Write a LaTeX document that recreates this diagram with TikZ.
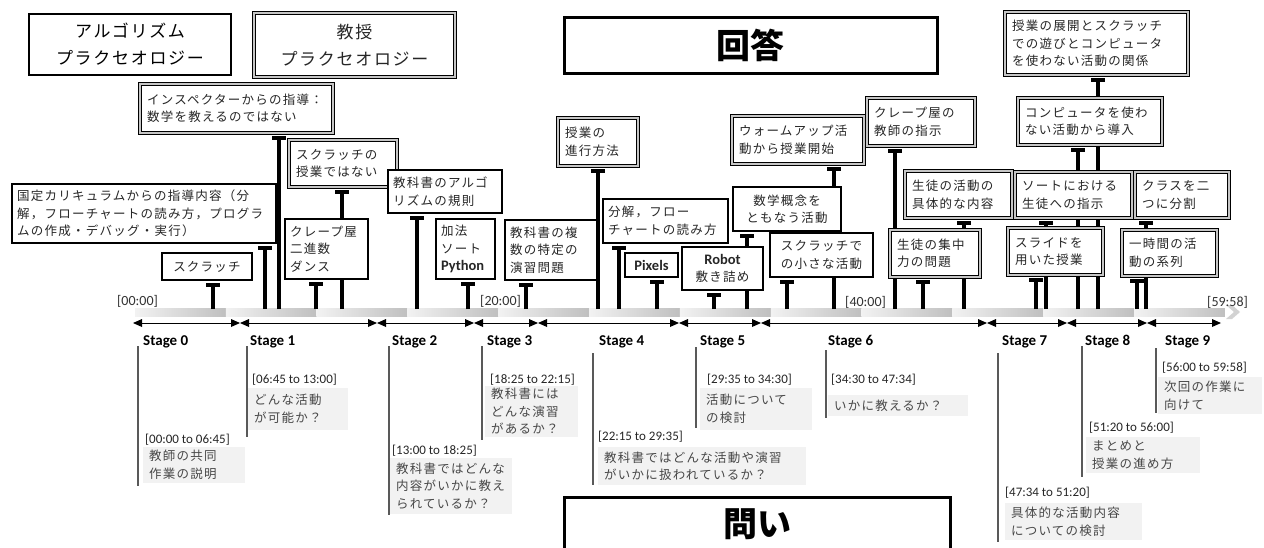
\documentclass[tikz,border=0pt]{standalone}
\usepackage{fontspec}
\setmainfont{Carlito}
\newfontfamily\jp{Noto Sans CJK JP}
\newfontfamily\jps{Noto Sans CJK JP}[LetterSpace=10]
\newfontfamily\latf{Carlito}
\usetikzlibrary{arrows.meta,calc}
\pgfdeclarelayer{background}
\pgfsetlayers{background,main}
\newcommand\jpt{\jps\fontsize{12.5}{17.5}\selectfont}
\newcommand\jptitle{\jps\fontsize{17}{27}\selectfont}
\newcommand\jpbig{\jp\bfseries\fontsize{34}{40}\selectfont}
\begin{document}
\begin{tikzpicture}[x=1pt,y=-1pt,
  sbox/.style={draw, line width=1.8pt, fill=white, inner xsep=5pt, inner ysep=1pt, align=left, font=\jpt, text=black!85},
  dbox/.style={draw, line width=1.1pt, double=gray!45, double distance=1.6pt, fill=white, inner xsep=7pt, inner ysep=1pt, align=left, font=\jpt, text=black!85},
  tbox/.style={draw, line width=2.6pt, fill=white, align=center},
  qbox/.style={fill=gray!10, text=black!72, align=left, inner xsep=6pt, inner ysep=1pt, font=\jpt},
  tlab/.style={anchor=west, inner sep=0pt, font=\latf\fontsize{13}{15}\selectfont, text=black!85},
  mlab/.style={anchor=west, inner sep=0pt, font=\latf\fontsize{14}{16}\selectfont, text=black!80},
  stlab/.style={anchor=west, inner sep=0pt, font=\latf\bfseries\fontsize{15}{18}\selectfont},
  latb/.style={font=\latf\bfseries\fontsize{14.5}{17.5}\selectfont},
  conn/.style={line width=4.2pt, -{Rectangle[length=4pt,width=14pt,line width=0pt]}, shorten >=2pt},
  stg/.style={line width=0.9pt, {Triangle[length=9pt,width=8pt,line width=0pt]}-{Triangle[length=9pt,width=8pt,line width=0pt]}},
  sline/.style={line width=1.1pt, black!65}
]
\useasboundingbox (0,0) rectangle (1264,547);

% ---------- title boxes
\node[tbox, line width=2.4pt, minimum width=202, minimum height=61, font=\jptitle] (algprax) at (130,44.5) {アルゴリズム\\プラクセオロジー};
\node[dbox, line width=1.3pt, double distance=1.8pt, align=center, minimum width=201, minimum height=64, font=\jptitle] (teachprax) at (354.5,45) {教授\\プラクセオロジー};
\node[tbox, line width=3pt, minimum width=373, minimum height=56, font=\jpbig] (ans) at (750.5,45) {回答};
\node[tbox, line width=3pt, minimum width=386, minimum height=54, font=\jpbig] (qst) at (757,524) {問い};

% ---------- double boxes
\node[dbox, minimum width=193, minimum height=49, text width=179] (insp) at (236.5,108.5) {インスペクターからの指導：\\数学を教えるのではない};
\node[dbox, minimum width=108, minimum height=47, text width=94] (notscr) at (343,163.5) {スクラッチの\\授業ではない};
\node[dbox, minimum width=80, minimum height=48, text width=66] (prog) at (598,142) {授業の\\進行方法};
\node[dbox, minimum width=132, minimum height=48, text width=118] (warm) at (798,140) {ウォームアップ活\\動から授業開始};
\node[dbox, minimum width=108, minimum height=48, text width=94] (crepet) at (921,122) {クレープ屋の\\教師の指示};
\node[dbox, minimum width=107, minimum height=47, text width=93] (actc) at (958.5,194.5) {生徒の活動の\\具体的な内容};
\node[dbox, minimum width=90, minimum height=47, text width=76] (conc) at (935,253.5) {生徒の集中\\力の問題};
\node[dbox, minimum width=183, minimum height=63, text width=169] (rel) at (1096.5,43.5) {授業の展開とスクラッチ\\での遊びとコンピュータ\\を使わない活動の関係};
\node[dbox, minimum width=144, minimum height=47, text width=130] (nocomp) at (1090,121.5) {コンピュータを使わ\\ない活動から導入};
\node[dbox, minimum width=117, minimum height=46, text width=103] (sort) at (1073.5,195) {ソートにおける\\生徒への指示};
\node[dbox, minimum width=95, minimum height=47, text width=81] (slide) at (1055.5,251.5) {スライドを\\用いた授業};
\node[dbox, minimum width=94, minimum height=46, text width=80] (split) at (1182,195) {クラスを二\\つに分割};
\node[dbox, minimum width=95, minimum height=46, text width=81] (hour) at (1169.5,253) {一時間の活\\動の系列};

% ---------- single boxes
\node[sbox, minimum width=264, minimum height=59, text width=254] (cur) at (144,213.5) {国定カリキュラムからの指導内容（分\\解，フローチャートの読み方，プログラ\\ムの作成・デバッグ・実行）};
\node[sbox, align=center, minimum width=90, minimum height=27, text width=80] (scr) at (207,266.5) {スクラッチ};
\node[sbox, minimum width=83, minimum height=60, text width=73] (crepe) at (326.5,249) {クレープ屋\\二進数\\ダンス};
\node[sbox, minimum width=114, minimum height=43, text width=104] (algo) at (445,191.5) {教科書のアルゴ\\リズムの規則};
\node[sbox, minimum width=59, minimum height=60, text width=49] (add) at (465.5,249) {加法\\ソート\\{\latf\bfseries\fontsize{14.5}{17.5}\selectfont Python}};
\node[sbox, minimum width=92, minimum height=60, text width=82] (tex) at (551,250) {教科書の複\\数の特定の\\演習問題};
\node[sbox, minimum width=125, minimum height=44, text width=115] (decomp) at (665.5,221) {分解，フロー\\チャートの読み方};
\node[sbox, latb, align=center, minimum width=53, minimum height=24, text width=43] (pix) at (651.5,265) {Pixels};
\node[sbox, align=center, minimum width=81, minimum height=43, text width=71] (robot) at (722.5,268.5) {{\latf\bfseries\fontsize{14.5}{17.5}\selectfont Robot}\\敷き詰め};
\node[sbox, align=center, minimum width=108, minimum height=44, text width=98] (math) at (787,209) {数学概念を\\ともなう活動};
\node[sbox, align=center, minimum width=103, minimum height=44, text width=93] (small) at (821.5,255) {スクラッチで\\の小さな活動};

% ---------- time marks
\node[mlab] (m0) at (117,301) {[00:00]};
\node[mlab] (m20) at (480,301) {[20:00]};
\node[mlab] (m40) at (845,302) {[40:00]};
\node[mlab] (m60) at (1207,302) {[59:58]};

% ---------- stage arrows
\foreach \n/\x in {0/133,1/240,2/377,3/474,4/538,5/679,6/761,7/987,8/1067,9/1147,10/1221}
  \coordinate (s\n) at (\x,323);
\draw[stg] (s0) -- (s1);
\draw[stg] (s1) -- (s2);
\draw[stg] (s2) -- (s3);
\draw[stg] (s3) -- (s4);
\draw[stg] (s4) -- (s5);
\draw[stg] (s5) -- (s6);
\draw[stg] (s6) -- (s7);
\draw[stg] (s7) -- (s8);
\draw[stg] (s8) -- (s9);
\draw[stg] (s9) -- (s10);

% ---------- stage labels and lines
\node[stlab] (st0) at (143,342) {Stage 0};
\node[stlab] (st1) at (250,342) {Stage 1};
\node[stlab] (st2) at (392,342) {Stage 2};
\node[stlab] (st3) at (487,342) {Stage 3};
\node[stlab] (st4) at (599,342) {Stage 4};
\node[stlab] (st5) at (700,342) {Stage 5};
\node[stlab] (st6) at (828,342) {Stage 6};
\node[stlab] (st7) at (1002,342) {Stage 7};
\node[stlab] (st8) at (1085,342) {Stage 8};
\node[stlab] (st9) at (1165,342) {Stage 9};
\draw[sline] (138,346) -- (138,486);
\draw[sline] (247,346) -- (247,437);
\draw[sline] (389,346) -- (389,515);
\draw[sline] (482,346) -- (482,440);
\draw[sline] (593,353) -- (593,485);
\draw[sline] (696,347) -- (696,428);
\draw[sline] (826,350) -- (826,418);
\draw[sline] (998,353) -- (998,542);
\draw[sline] (1082,346) -- (1082,477);
\draw[sline] (1156,348) -- (1156,413);

% ---------- time ranges
\node[tlab] (tl0) at (145,440) {[00:00 to 06:45]};
\node[tlab] (tl1) at (252,380) {[06:45 to 13:00]};
\node[tlab] (tl2) at (392,451) {[13:00 to 18:25]};
\node[tlab] (tl3) at (490,380) {[18:25 to 22:15]};
\node[tlab] (tl4) at (598,437) {[22:15 to 29:35]};
\node[tlab] (tl5) at (707,380) {[29:35 to 34:30]};
\node[tlab] (tl6) at (831,380) {[34:30 to 47:34]};
\node[tlab] (tl7) at (1005,493) {[47:34 to 51:20]};
\node[tlab] (tl8) at (1089,428) {[51:20 to 56:00]};
\node[tlab] (tl9) at (1162,368) {[56:00 to 59:58]};

% ---------- questions
\node[qbox, minimum width=102, minimum height=36, text width=90] (q0) at (194,465) {教師の共同\\作業の説明};
\node[qbox, minimum width=100, minimum height=42, text width=88] (q1) at (298,409) {どんな活動\\が可能か？};
\node[qbox, minimum width=122, minimum height=56, text width=110] (q2) at (451,486) {教科書ではどんな\\内容がいかに教え\\られているか？};
\node[qbox, minimum width=93, minimum height=51, text width=81] (q3) at (531.5,411.5) {教科書には\\どんな演習\\があるか？};
\node[qbox, minimum width=208, minimum height=38, text width=196] (q4) at (702,466) {教科書ではどんな活動や演習\\がいかに扱われているか？};
\node[qbox, minimum width=112, minimum height=42, text width=100] (q5) at (756,409) {活動について\\の検討};
\node[qbox, minimum width=140, minimum height=21, text width=128] (q6) at (898,405.5) {いかに教えるか？};
\node[qbox, minimum width=137, minimum height=37, text width=125] (q7) at (1073.5,521.5) {具体的な活動内容\\についての検討};
\node[qbox, minimum width=114, minimum height=36, text width=102] (q8) at (1143,455) {まとめと\\授業の進め方};
\node[qbox, minimum width=104, minimum height=37, text width=92] (q9) at (1210,395.5) {次回の作業に\\向けて};

% ---------- background: bar and connectors
\begin{pgfonlayer}{background}
\fill[white] (0,0) rectangle (1264,547);
\foreach \i in {0,...,11}
  \shade[left color=gray!10, right color=gray!50] ({135+\i*90.83},308) rectangle ({135+(\i+1)*90.83},316);
\fill[gray!35] (1226,305) -- (1232,305) -- (1240,312) -- (1232,319) -- (1226,319) -- (1234,312) -- cycle;
\foreach \k/\x in {1/213,2/265,3/279,4/316,5/342,6/417,7/468,8/526,9/598,10/619,11/657,12/714,13/747,14/787,15/834,16/895,17/923,18/964,19/1036,20/1046,21/1078,22/1098,23/1137,24/1146}
  \coordinate (p\k) at (\x,309);
\draw[conn] (p1) -- (p1 |- scr.south);
\draw[conn] (p2) -- (p2 |- cur.south);
\draw[conn] (p3) -- (p3 |- insp.south);
\draw[conn] (p4) -- (p4 |- crepe.south);
\draw[conn] (p5) -- (p5 |- notscr.south);
\draw[conn] (p6) -- (p6 |- algo.south);
\draw[conn] (p7) -- (p7 |- add.south);
\draw[conn] (p8) -- (p8 |- tex.south);
\draw[conn] (p9) -- (p9 |- prog.south);
\draw[conn] (p10) -- (p10 |- decomp.south);
\draw[conn] (p11) -- (p11 |- pix.south);
\draw[conn] (p12) -- (p12 |- robot.south);
\draw[conn] (p13) -- (p13 |- math.south);
\draw[conn] (p14) -- (p14 |- small.south);
\draw[conn] (p15) -- (p15 |- warm.south);
\draw[conn] (p16) -- (p16 |- crepet.south);
\draw[conn] (p17) -- (p17 |- conc.south);
\draw[conn] (p18) -- (p18 |- actc.south);
\draw[conn] (p19) -- (p19 |- slide.south);
\draw[conn] (p20) -- (p20 |- sort.south);
\draw[conn] (p21) -- (p21 |- nocomp.south);
\draw[conn] (p22) -- (p22 |- rel.south);
\draw[conn] (p23) -- (p23 |- hour.south);
\draw[conn] (p24) -- (p24 |- split.south);
\end{pgfonlayer}
\end{tikzpicture}
\end{document}
